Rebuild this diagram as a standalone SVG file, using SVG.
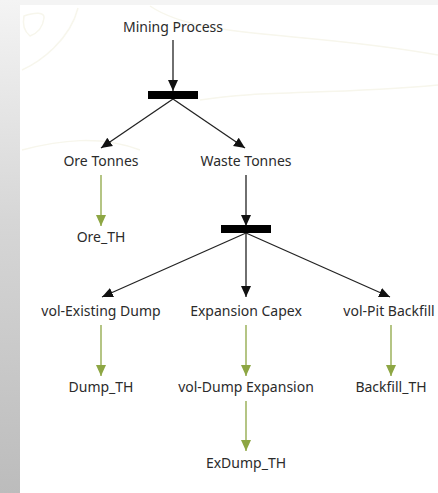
<svg xmlns="http://www.w3.org/2000/svg" width="438" height="493" viewBox="0 0 438 493">
<defs>
<linearGradient id="side" x1="0" y1="0" x2="0" y2="1">
<stop offset="0" stop-color="#f4f4f4"/>
<stop offset="0.45" stop-color="#d6d6d6"/>
<stop offset="1" stop-color="#bcbcbc"/>
</linearGradient>
<marker id="ab" markerWidth="12" markerHeight="12" refX="11" refY="6" orient="auto" markerUnits="userSpaceOnUse">
<path d="M0,1 L11,6 L0,11 Z" fill="#111"/>
</marker>
<marker id="ag" markerWidth="12" markerHeight="12" refX="11" refY="6" orient="auto" markerUnits="userSpaceOnUse">
<path d="M0,1 L11,6 L0,11 Z" fill="#8da643"/>
</marker>
</defs>
<style>
text{font-family:"Noto Sans","Open Sans","DejaVu Sans",sans-serif;font-size:14px;fill:#2b2b2b;text-anchor:middle}
.k{stroke:#222;stroke-width:1.3;fill:none;marker-end:url(#ab)}
.g{stroke:#8da643;stroke-width:1.3;fill:none;marker-end:url(#ag)}
.bar{fill:#000}
.c{fill:none;stroke:#f7f6ec;stroke-width:1.5}
</style>
<rect x="0" y="0" width="438" height="493" fill="#ffffff"/>
<rect x="0" y="0" width="438" height="5" fill="#f4f4f4"/>
<rect x="0" y="0" width="20" height="493" fill="url(#side)"/>
<g id="background-contours">
<path class="c" d="M24,16 C35,12 45,12 44,18 C43,26 38,33 30,36 C25,32 22,26 24,16 Z"/>
<path class="c" d="M22,70 C40,62 70,40 78,8"/>
<path class="c" d="M150,6 C200,40 300,30 438,55"/>
<path class="c" d="M200,100 C260,90 330,95 438,85"/>
<path class="c" d="M22,150 C60,140 100,135 140,150"/>
</g>
<g id="connectors">
<line class="k" x1="173" y1="40" x2="173" y2="91"/>
<line class="k" x1="173" y1="99" x2="101" y2="148"/>
<line class="k" x1="173" y1="99" x2="245" y2="148"/>
<line class="g" x1="101" y1="175" x2="101" y2="226"/>
<line class="k" x1="246" y1="175" x2="246" y2="226"/>
<line class="k" x1="246" y1="233" x2="102" y2="297"/>
<line class="k" x1="246" y1="233" x2="246" y2="297"/>
<line class="k" x1="246" y1="233" x2="390" y2="297"/>
<line class="g" x1="101" y1="325" x2="101" y2="376"/>
<line class="g" x1="246" y1="325" x2="246" y2="376"/>
<line class="g" x1="391" y1="325" x2="391" y2="376"/>
<line class="g" x1="246" y1="401" x2="246" y2="451"/>
</g>
<g id="mining-process"><text x="173" y="32">Mining Process</text></g>
<g id="split-1"><rect class="bar" x="148" y="91" width="50" height="8"/></g>
<g id="ore-tonnes"><text x="101" y="166">Ore Tonnes</text></g>
<g id="waste-tonnes"><text x="246" y="166">Waste Tonnes</text></g>
<g id="ore-th"><text x="101" y="242">Ore_TH</text></g>
<g id="split-2"><rect class="bar" x="221" y="225" width="50" height="8"/></g>
<g id="vol-existing-dump"><text x="101" y="316">vol-Existing Dump</text></g>
<g id="expansion-capex"><text x="246" y="316">Expansion Capex</text></g>
<g id="vol-pit-backfill"><text x="389" y="316">vol-Pit Backfill</text></g>
<g id="dump-th"><text x="101" y="392">Dump_TH</text></g>
<g id="vol-dump-expansion"><text x="246" y="392">vol-Dump Expansion</text></g>
<g id="backfill-th"><text x="391" y="392">Backfill_TH</text></g>
<g id="exdump-th"><text x="246" y="468">ExDump_TH</text></g>
</svg>
